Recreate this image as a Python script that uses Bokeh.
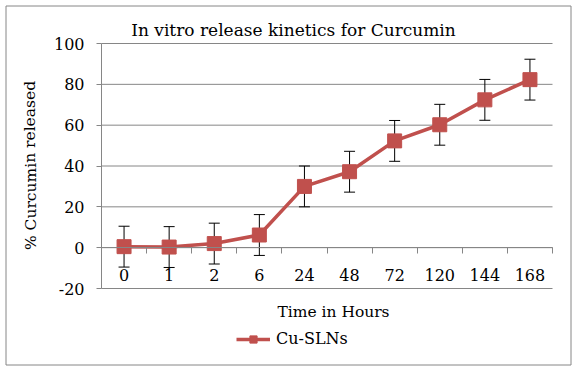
from bokeh.plotting import figure
from bokeh.models import (Range1d, LinearAxis, FixedTicker, Label, Legend, LegendItem,
                          ColumnDataSource, BoxAnnotation)
from bokeh.embed import file_html
from bokeh.resources import INLINE

# ---- data ----
hours = ["0", "1", "2", "6", "24", "48", "72", "120", "144", "168"]
release = [0.5, 0.3, 2.0, 6.2, 30.0, 37.2, 52.3, 60.2, 72.4, 82.3]
error = [10, 10, 10, 10, 10, 10, 10, 10, 10, 10]
y_ticks = [-20, 0, 20, 40, 60, 80, 100]
title_text = "In vitro release kinetics for Curcumin"
x_title = "Time in Hours"
y_title = "% Curcumin released"
series_name = "Cu-SLNs"

FONT = "DejaVu Serif"
RED = "#C0504D"
GRAY = "#868686"

W, H = 576, 370
n = len(hours)
xpos = [i + 0.5 for i in range(n)]          # category centres
src = ColumnDataSource(dict(
    x=xpos, y=release,
    lo=[v - e for v, e in zip(release, error)],
    hi=[v + e for v, e in zip(release, error)],
))

# whole canvas is the frame; plot area (categories 0..n, y -20..100) sits at px 101..552 / 43..288
px_x = (552 - 101) / n
px_y = (288 - 43) / (y_ticks[-1] - y_ticks[0])
x_rng = Range1d(-101 / px_x, n + (W - 552) / px_x)
y_rng = Range1d(y_ticks[0] - (H - 288) / px_y, y_ticks[-1] + 43 / px_y)

p = figure(width=W, height=H, x_range=x_rng, y_range=y_rng, title=None,
           output_backend="svg", toolbar_location=None, x_axis_type=None, y_axis_type=None,
           min_border_left=0, min_border_right=0, min_border_top=0, min_border_bottom=0)
p.outline_line_color = None
p.xgrid.visible = False
p.ygrid.visible = False

# chart border
p.add_layout(BoxAnnotation(left=5.5, right=570.5, top=5.5, bottom=364.5,
                           left_units="canvas", right_units="canvas",
                           top_units="canvas", bottom_units="canvas",
                           fill_color=None, fill_alpha=0, line_color=GRAY, line_width=1,
                           line_alpha=1))

# horizontal gridlines across the category span
p.segment(x0=[0] * len(y_ticks), x1=[n] * len(y_ticks), y0=y_ticks, y1=y_ticks,
          line_color=GRAY, line_width=1)

# y axis
yax = LinearAxis(fixed_location=0, bounds=(y_ticks[0], y_ticks[-1]),
                 ticker=FixedTicker(ticks=y_ticks))
yax.major_label_overrides = {-20: "-20"}
yax.axis_line_color = GRAY
yax.major_tick_line_color = GRAY
yax.major_tick_out = 5
yax.major_tick_in = 0
yax.minor_tick_line_color = None
yax.major_label_text_font = FONT
yax.major_label_text_font_size = "16px"
yax.major_label_text_color = "black"
yax.major_label_standoff = 12
p.add_layout(yax, "left")

# x axis line + tick marks at category boundaries (at y = 0)
tax = LinearAxis(fixed_location=0, bounds=(0, n), ticker=FixedTicker(ticks=list(range(n + 1))))
tax.axis_line_color = GRAY
tax.major_tick_line_color = GRAY
tax.major_tick_out = 6
tax.major_tick_in = 0
tax.minor_tick_line_color = None
tax.major_label_text_font_size = "0px"
tax.major_label_text_color = None
p.add_layout(tax, "below")

# category labels
xax = LinearAxis(fixed_location=0, ticker=FixedTicker(ticks=xpos))
xax.major_label_overrides = {x: h for x, h in zip(xpos, hours)}
xax.axis_line_color = None
xax.major_tick_line_color = None
xax.major_tick_out = 0
xax.major_tick_in = 0
xax.minor_tick_line_color = None
xax.major_label_text_font = FONT
xax.major_label_text_font_size = "16px"
xax.major_label_text_color = "black"
xax.major_label_standoff = 21
p.add_layout(xax, "below")

# error bars
p.segment(x0="x", y0="lo", x1="x", y1="hi", source=src, line_color="black", line_width=1)
p.scatter(x="x", y="hi", source=src, marker="dash", size=11, line_color="black", line_width=1)
p.scatter(x="x", y="lo", source=src, marker="dash", size=11, line_color="black", line_width=1)

ln = p.line(x="x", y="y", source=src, line_color=RED, line_width=3.5)
mk = p.scatter(x="x", y="y", source=src, marker="square", size=14, fill_color=RED, line_color=RED)

legend = Legend(items=[LegendItem(label=series_name, renderers=[ln, mk])],
                location=(236, H - 348), orientation="horizontal",
                label_text_font=FONT, label_text_font_size="16px", label_text_color="black",
                glyph_width=34, glyph_height=18, label_standoff=6,
                padding=0, margin=0, border_line_color=None, background_fill_alpha=0)
p.add_layout(legend, "center")

# titles
p.add_layout(Label(x=293, y=29, x_units="canvas", y_units="canvas", text=title_text,
                   text_font=FONT, text_font_size="17px", text_align="center",
                   text_color="black", text_baseline="alphabetic"))
p.add_layout(Label(x=333, y=311, x_units="canvas", y_units="canvas", text=x_title,
                   text_font=FONT, text_font_size="15.5px", text_align="center",
                   text_color="black", text_baseline="alphabetic"))
p.add_layout(Label(x=30, y=165, x_units="canvas", y_units="canvas", text=y_title,
                   text_font=FONT, text_font_size="15.5px", text_align="center",
                   text_color="black", text_baseline="middle", angle=1.5708))

open("out.html", "w").write(file_html(p, INLINE))
